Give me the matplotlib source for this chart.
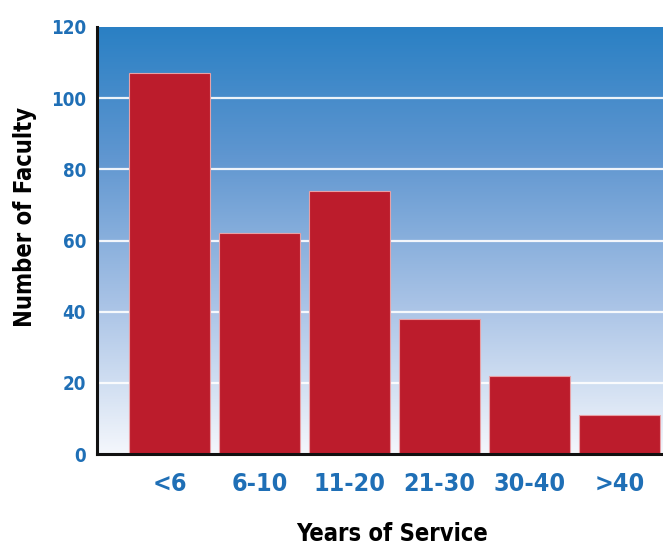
import matplotlib
matplotlib.use("Agg")
import matplotlib.pyplot as plt
import numpy as np
from matplotlib.colors import LinearSegmentedColormap

# Faculty counts by years of service
categories = ["<6", "6-10", "11-20", "21-30", "30-40", ">40"]
faculty = [107, 62, 74, 38, 22, 11]
y_ticks = [0, 20, 40, 60, 80, 100, 120]

tick_blue = "#1f6fb6"
bar_red = "#bc1c2c"
font_kw = dict(family="DejaVu Sans", stretch="condensed", fontweight="bold")

fig = plt.figure(figsize=(6.63, 5.46), dpi=100)
ax = fig.add_axes([97 / 663, 92 / 546, 566 / 663, 427 / 546])

x = np.arange(len(categories))
xlim = (-0.806, 5.483)
ylim = (0, 120)

# vertical blue-to-white background gradient
grad_cmap = LinearSegmentedColormap.from_list(
    "bg", [(0.0, "#f4f7fc"), (0.35, "#a9c3e6"), (0.7, "#5f96d0"), (1.0, "#2a80c4")]
)
grad = np.linspace(0, 1, 256).reshape(-1, 1)
ax.imshow(grad, cmap=grad_cmap, aspect="auto", origin="lower",
          extent=[xlim[0], xlim[1], ylim[0], ylim[1]], zorder=0)

for t in y_ticks[1:-1]:
    ax.axhline(t, color="white", lw=1.6, alpha=0.9, zorder=1)

ax.bar(x, faculty, width=0.9, color=bar_red, edgecolor="#e8a0a6",
       linewidth=0.8, zorder=2)

ax.set_xlim(*xlim)
ax.set_ylim(*ylim)
ax.set_yticks(y_ticks)
ax.set_xticks(x)
ax.set_xticklabels(categories)

for lbl in ax.get_yticklabels():
    lbl.set(**font_kw, fontsize=13.5, color=tick_blue)
for lbl in ax.get_xticklabels():
    lbl.set(**font_kw, fontsize=18, color=tick_blue)

ax.tick_params(axis="both", length=0)
ax.tick_params(axis="y", pad=8)
ax.tick_params(axis="x", pad=13)

for side in ["top", "right"]:
    ax.spines[side].set_visible(False)
for side in ["left", "bottom"]:
    ax.spines[side].set_color("#111111")
    ax.spines[side].set_linewidth(2.2)
    ax.spines[side].set_zorder(3)

fig.text(25 / 663, 1 - 217 / 546, "Number of Faculty", rotation=90,
         ha="center", va="center", fontsize=17, color="black", **font_kw)
fig.text(392 / 663, 1 - 534 / 546, "Years of Service",
         ha="center", va="center", fontsize=17, color="black", **font_kw)

fig.savefig("out.png", dpi=100)
